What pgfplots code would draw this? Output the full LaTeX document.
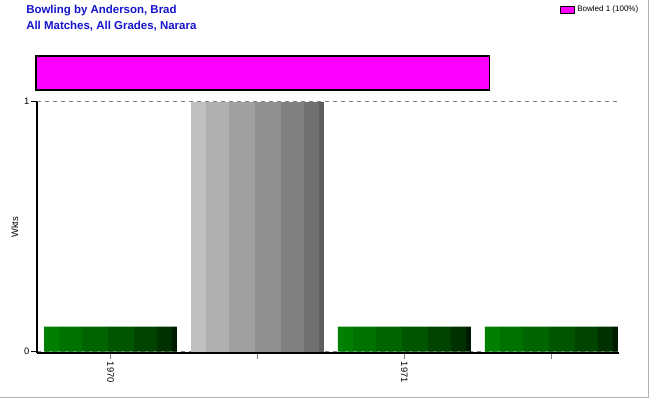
\documentclass[border=0pt]{standalone}
\usepackage{pgfplots}
\pgfplotsset{compat=1.18}
\usepackage{fontspec}
\setmainfont{Liberation Sans}
\definecolor{ttl}{RGB}{20,20,205}
\definecolor{mag}{RGB}{255,0,255}
\definecolor{gA}{HTML}{BFBFBF}\definecolor{gB}{HTML}{B0B0B0}\definecolor{gC}{HTML}{A0A0A0}
\definecolor{gD}{HTML}{909090}\definecolor{gE}{HTML}{808080}\definecolor{gF}{HTML}{707070}\definecolor{gG}{HTML}{5E5E5E}
\definecolor{eA}{HTML}{008000}\definecolor{eB}{HTML}{007200}\definecolor{eC}{HTML}{006400}
\definecolor{eD}{HTML}{005500}\definecolor{eE}{HTML}{004400}\definecolor{eF}{HTML}{003100}\definecolor{eG}{HTML}{001C00}
\begin{document}
\begin{tikzpicture}
\useasboundingbox (0,0) rectangle (487.5pt,300pt);
\draw[gray!60,line width=1.1pt] (0,1.875pt)--(486.375pt,1.875pt)--(486.375pt,300pt);
\node[anchor=west,text=ttl,font=\fontsize{8.6}{10}\selectfont\bfseries,inner sep=0pt] at (19.5pt,291.75pt) {Bowling by Anderson, Brad};
\node[anchor=west,text=ttl,font=\fontsize{8.6}{10}\selectfont\bfseries,inner sep=0pt] at (19.5pt,280.5pt) {All Matches, All Grades, Narara};
% dismissal strip
\begin{axis}[at={(27pt,232.5pt)},anchor=south west,scale only axis,width=340pt,height=25.5pt,
  xmin=0,xmax=100,ymin=0,ymax=1,hide axis,clip=false,
  legend style={draw=none,fill=none,font=\fontsize{6}{7}\selectfont,at={(1.155,2.35)},anchor=west,inner sep=0pt},
  legend image code/.code={\draw[fill=mag,draw=black,line width=0.6pt] (0pt,-2.4pt) rectangle (10.5pt,2.4pt);}]
\addplot[xbar,bar width=1,fill=mag,draw=black,line width=1pt] coordinates {(100,0.5)};
\addlegendentry{Bowled 1 (100\%)}
\end{axis}
% main chart
\begin{axis}[at={(27.75pt,35.25pt)},anchor=south west,scale only axis,width=436.5pt,height=188.6pt,
  xmin=-0.5,xmax=3.46,ymin=-0.005,ymax=1,
  axis x line*=bottom,axis y line*=left,
  axis line style={-,black,line width=1.6pt},
  xtick={0,1,2,3},xticklabels={1970,,1971,},
  ytick={0,1},
  tick align=outside,major tick length=4.5pt,
  x tick style={gray,line width=0.6pt},y tick style={black,line width=0.6pt},
  x tick label style={rotate=-90,anchor=west,font=\fontsize{7}{8}\selectfont,inner sep=2pt},
  y tick label style={font=\fontsize{7}{8}\selectfont,inner sep=1pt},
  /pgf/number format/assume math mode=true,
  ymajorgrids,grid style={dashed,gray,line width=0.6pt},
  ylabel={Wkts},ylabel style={font=\fontsize{7}{8}\selectfont,at={(axis description cs:-0.038,0.5)},anchor=center},
  ybar,
]
\addplot[ybar,draw=none,fill=eA,bar width=0.102,bar shift=-0.401] coordinates {(0,0.1) (2,0.1) (3,0.1)};
\addplot[ybar,draw=none,fill=eB,bar width=0.156,bar shift=-0.272] coordinates {(0,0.1) (2,0.1) (3,0.1)};
\addplot[ybar,draw=none,fill=eC,bar width=0.177,bar shift=-0.105] coordinates {(0,0.1) (2,0.1) (3,0.1)};
\addplot[ybar,draw=none,fill=eD,bar width=0.177,bar shift=0.071] coordinates {(0,0.1) (2,0.1) (3,0.1)};
\addplot[ybar,draw=none,fill=eE,bar width=0.156,bar shift=0.238] coordinates {(0,0.1) (2,0.1) (3,0.1)};
\addplot[ybar,draw=none,fill=eF,bar width=0.102,bar shift=0.367] coordinates {(0,0.1) (2,0.1) (3,0.1)};
\addplot[ybar,draw=none,fill=eG,bar width=0.034,bar shift=0.435] coordinates {(0,0.1) (2,0.1) (3,0.1)};
\addplot[ybar,draw=none,fill=gA,bar width=0.102,bar shift=-0.401] coordinates {(1,1)};
\addplot[ybar,draw=none,fill=gB,bar width=0.156,bar shift=-0.272] coordinates {(1,1)};
\addplot[ybar,draw=none,fill=gC,bar width=0.177,bar shift=-0.105] coordinates {(1,1)};
\addplot[ybar,draw=none,fill=gD,bar width=0.177,bar shift=0.071] coordinates {(1,1)};
\addplot[ybar,draw=none,fill=gE,bar width=0.156,bar shift=0.238] coordinates {(1,1)};
\addplot[ybar,draw=none,fill=gF,bar width=0.102,bar shift=0.367] coordinates {(1,1)};
\addplot[ybar,draw=none,fill=gG,bar width=0.034,bar shift=0.435] coordinates {(1,1)};
\end{axis}
\end{tikzpicture}
\end{document}
